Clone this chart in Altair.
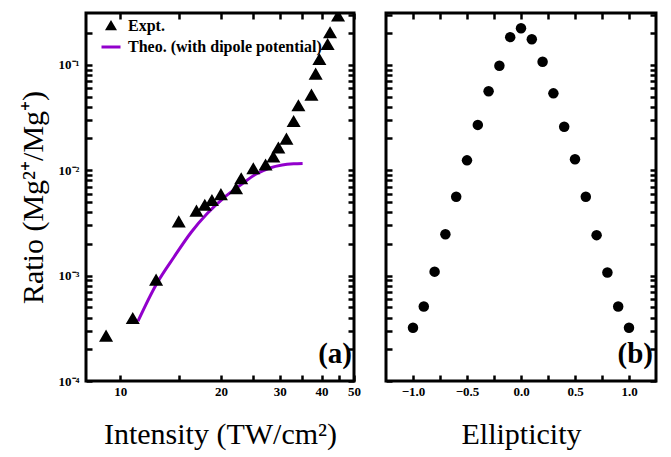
import altair as alt
import pandas as pd

# ---------------- data ----------------
series_names = ["Expt.", "Theo. (with dipole potential)"]

intensity_expt = [9.07, 10.9, 12.8, 14.96, 16.9, 17.9, 18.8, 20.0, 22.2, 23.0, 25.0, 27.2,
                  28.7, 29.7, 31.4, 33.0, 34.1, 37.3, 38.4, 39.4, 41.7, 42.4, 44.8]
ratio_expt = [2.64e-4, 3.88e-4, 8.97e-4, 3.2e-3, 4.05e-3, 4.6e-3, 5.1e-3, 5.8e-3, 6.6e-3,
              8.2e-3, 1.02e-2, 1.11e-2, 1.32e-2, 1.61e-2, 1.95e-2, 2.87e-2, 4.05e-2, 5.1e-2,
              8.07e-2, 0.111, 0.154, 0.199, 0.287]

intensity_theo = [11.3, 12.8, 14.5, 16.3, 18.2, 20.4, 23.0, 25.5, 28.0, 30.5, 33.0, 35.1]
ratio_theo = [3.7e-4, 8.2e-4, 1.51e-3, 2.58e-3, 3.88e-3, 5.47e-3, 7.3e-3, 9.2e-3, 1.05e-2,
              1.12e-2, 1.15e-2, 1.16e-2]

ellipticity = [-1.0, -0.9, -0.8, -0.7, -0.6, -0.5, -0.4, -0.3, -0.2, -0.1, 0.0,
               0.1, 0.2, 0.3, 0.4, 0.5, 0.6, 0.7, 0.8, 0.9, 1.0]
ratio_ellip = [3.2e-4, 5.1e-4, 1.09e-3, 2.47e-3, 5.6e-3, 1.24e-2, 2.69e-2, 5.6e-2, 9.8e-2,
               0.183, 0.222, 0.175, 0.107, 5.36e-2, 2.58e-2, 1.27e-2, 5.6e-3, 2.42e-3,
               1.07e-3, 5.1e-4, 3.2e-4]

x_a_ticks = [10, 15, 20, 25, 30, 35, 40, 45, 50]
x_b_ticks = [-1.0, -0.75, -0.5, -0.25, 0.0, 0.25, 0.5, 0.75, 1.0]
y_ticks = [m * 10.0 ** e for e in (-4, -3, -2, -1) for m in range(1, 10) if m * 10.0 ** e <= 0.31]
y_ticks_left = [t for t in y_ticks if t <= 0.21]

# ---------------- styling ----------------
PURPLE = "#9200cc"
INK = "black"
SERIF = "Liberation Serif"
W_A, W_B, H = 268, 270, 368
TICK = 6
TRI_PATH = "M0,-0.62L0.68,0.55L-0.68,0.55Z"
LINE_PATH = "M-1.9,0H1.9"

df_expt = pd.DataFrame({"intensity": intensity_expt, "ratio": ratio_expt, "series": series_names[0]})
df_theo = pd.DataFrame({"intensity": intensity_theo, "ratio": ratio_theo, "series": series_names[1]})
df_ell = pd.DataFrame({"ellipticity": ellipticity, "ratio": ratio_ellip})

xs_a = alt.Scale(type="log", domain=[7.9, 50], nice=False)
xs_b = alt.Scale(domain=[-1.25, 1.25], nice=False, zero=False)
ys = alt.Scale(type="log", domain=[1e-4, 0.31], nice=False)

LOG = "(log(datum.value)/LN10)"
y_label_expr = (
    f"abs({LOG} - round({LOG})) > 0.001 ? '' : "
    f"round({LOG}) == -1 ? '10⁻¹' : round({LOG}) == -2 ? '10⁻²' : "
    f"round({LOG}) == -3 ? '10⁻³' : '10⁻⁴'"
)
xa_label_expr = "datum.value % 10 == 0 ? format(datum.value, 'd') : ''"
xb_label_expr = "abs(datum.value * 2 - round(datum.value * 2)) < 0.01 ? format(datum.value, '.1f') : ''"


def axis(orient, values, labels=False, label_expr=None, title=None, title_padding=None,
         label_padding=5):
    kw = dict(orient=orient, values=values, offset=-TICK, ticks=True, tickSize=TICK,
              tickWidth=2.5, tickColor=INK, tickOpacity=1, domain=False, grid=False,
              labels=labels, labelFlush=False, labelOverlap=False, labelPadding=label_padding,
              title=title)
    if label_expr is not None:
        kw["labelExpr"] = label_expr
    if title_padding is not None:
        kw["titlePadding"] = title_padding
    return alt.Axis(**kw)


legend = alt.Legend(
    title=None, orient="none", legendX=17, legendY=5, padding=0,
    labelFont=SERIF, labelFontWeight="bold", labelFontSize=16, labelColor="black",
    labelOffset=9, labelLimit=400, rowPadding=4, symbolStrokeWidth=3, symbolOpacity=1,
)
fill_enc = alt.Fill("series:N", scale=alt.Scale(domain=series_names, range=["black", PURPLE]),
                    legend=legend)
stroke_enc = alt.Stroke("series:N", scale=alt.Scale(domain=series_names, range=["black", PURPLE]),
                        legend=legend)
shape_enc = alt.Shape("series:N", scale=alt.Scale(domain=series_names, range=[TRI_PATH, LINE_PATH]),
                      legend=legend)

# ---------------- panel (a) ----------------
pts_a = alt.Chart(df_expt).mark_point(filled=True, size=169, opacity=1, strokeWidth=3,
                                      clip=True).encode(
    x=alt.X("intensity:Q", scale=xs_a,
            axis=axis("bottom", x_a_ticks, True, xa_label_expr,
                      "Intensity (TW/cm²)", 21, label_padding=4)),
    y=alt.Y("ratio:Q", scale=ys,
            axis=axis("left", y_ticks_left, True, y_label_expr,
                      "Ratio (Mg²⁺/Mg⁺)", 10, label_padding=7)),
    fill=fill_enc, stroke=stroke_enc, shape=shape_enc,
)
line_a = alt.Chart(df_theo).mark_line(strokeWidth=3, interpolate="monotone").encode(
    x=alt.X("intensity:Q", scale=xs_a, axis=None),
    y=alt.Y("ratio:Q", scale=ys, axis=None),
    stroke=stroke_enc,
)
frame_a = alt.Chart(df_expt).mark_point(opacity=0).encode(
    x=alt.X("intensity:Q", scale=xs_a, axis=axis("top", x_a_ticks)),
    y=alt.Y("ratio:Q", scale=ys, axis=axis("right", y_ticks)),
)
tag_a = alt.Chart(pd.DataFrame({"tag": ["(a)"]})).mark_text(
    font=SERIF, fontWeight="bold", fontSize=29, align="right", baseline="alphabetic", color="black"
).encode(text="tag:N", x=alt.value(W_A - 2), y=alt.value(H - 18))

panel_a = alt.layer(line_a, pts_a, frame_a, tag_a).resolve_axis(
    x="independent", y="independent").properties(width=W_A, height=H)

# ---------------- panel (b) ----------------
pts_b = alt.Chart(df_ell).mark_circle(size=110, color="black", opacity=1).encode(
    x=alt.X("ellipticity:Q", scale=xs_b,
            axis=axis("bottom", x_b_ticks, True, xb_label_expr, "Ellipticity", 21,
                      label_padding=4)),
    y=alt.Y("ratio:Q", scale=ys, axis=axis("left", y_ticks)),
)
frame_b = alt.Chart(df_ell).mark_point(opacity=0).encode(
    x=alt.X("ellipticity:Q", scale=xs_b, axis=axis("top", x_b_ticks)),
    y=alt.Y("ratio:Q", scale=ys, axis=axis("right", y_ticks)),
)
tag_b = alt.Chart(pd.DataFrame({"tag": ["(b)"]})).mark_text(
    font=SERIF, fontWeight="bold", fontSize=29, align="right", baseline="alphabetic", color="black"
).encode(text="tag:N", x=alt.value(W_B - 3), y=alt.value(H - 18))

panel_b = alt.layer(pts_b, frame_b, tag_b).resolve_axis(
    x="independent", y="independent").properties(width=W_B, height=H)

chart = alt.hconcat(panel_a, panel_b, spacing=21).properties(
    padding={"left": 8, "top": 2, "right": 0, "bottom": 0}
).configure_view(stroke="black", strokeWidth=3).configure_axis(
    labelFont=SERIF, labelFontWeight="bold", labelFontSize=13, labelColor="black",
    titleFont=SERIF, titleFontWeight="normal", titleFontSize=30, titleColor="black",
)

chart.save("out.html", embed_options={"renderer": "svg", "actions": False})
